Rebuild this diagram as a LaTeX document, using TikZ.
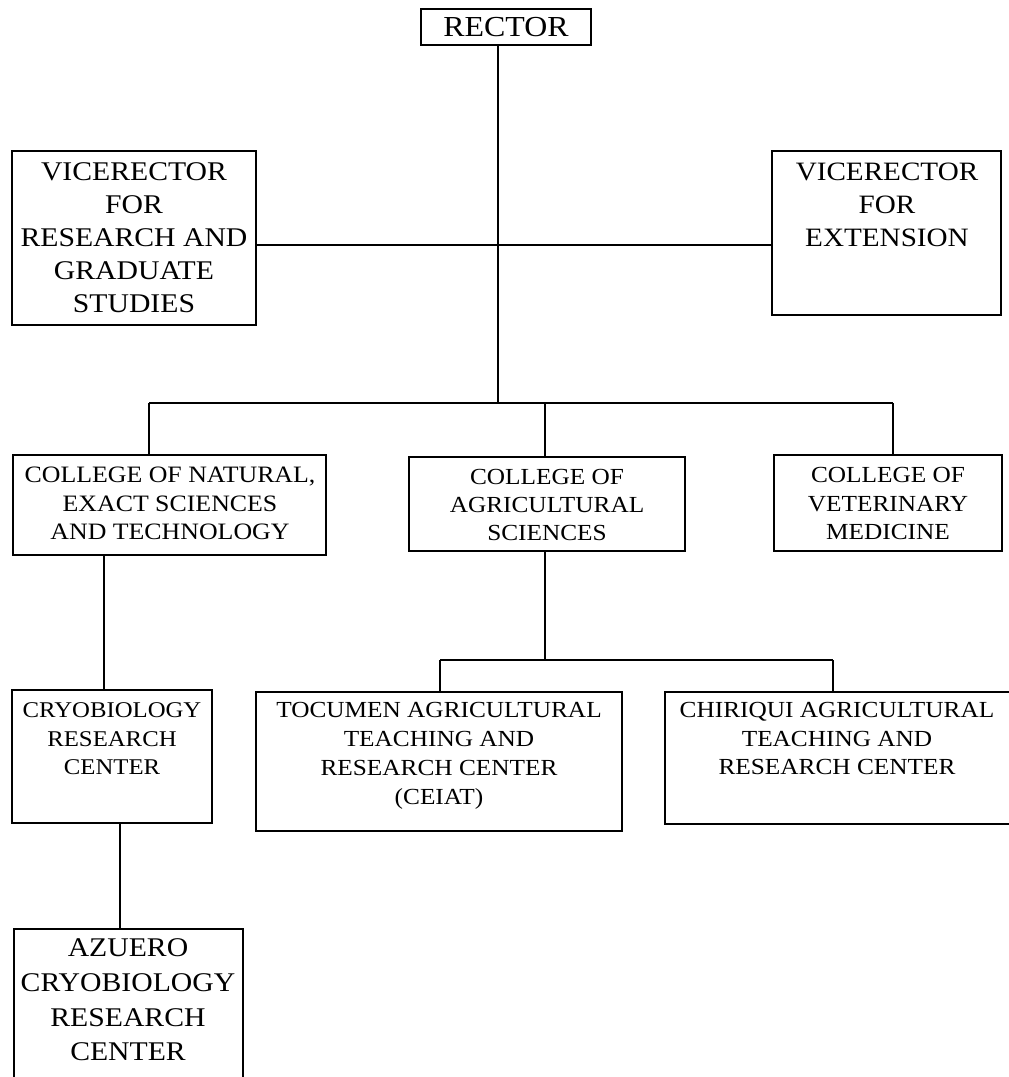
\documentclass[tikz,border=0pt]{standalone}
\usepackage{fontspec}
\setmainfont{Liberation Serif}[FakeStretch=1.1]
\begin{document}
\begin{tikzpicture}[x=1pt,y=-1pt]
\tikzset{
  box/.style={draw, line width=1.3pt, rectangle, inner sep=0pt, outer sep=0pt, anchor=north west},
  lbl/.style={align=center, inner sep=0pt, outer sep=0pt, anchor=north},
  conn/.style={line width=1.4pt},
  thickconn/.style={line width=2.4pt},
  fs/.style n args={2}{font=\fontsize{#1}{#2}\selectfont}
}
\useasboundingbox (0,0) rectangle (1009,1077);
\clip (0,0) rectangle (1009,1077);
\fill[white] (0,0) rectangle (1009,1077);

% boxes
\node[box, minimum width=170pt, minimum height=36pt] (rector) at (421,9) {};
\node[box, minimum width=244pt, minimum height=174pt] (vpr) at (12,151) {};
\node[box, minimum width=229pt, minimum height=164pt] (vpe) at (772,151) {};
\node[box, minimum width=313pt, minimum height=100pt] (cnat) at (13,455) {};
\node[box, minimum width=276pt, minimum height=94pt] (cagr) at (409,457) {};
\node[box, minimum width=228pt, minimum height=96pt] (cvet) at (774,455) {};
\node[box, minimum width=200pt, minimum height=133pt] (cryo) at (12,690) {};
\node[box, minimum width=366pt, minimum height=139pt] (toc) at (256,692) {};
\node[box, minimum width=360pt, minimum height=132pt] (chi) at (665,692) {};
\node[box, minimum width=229pt, minimum height=160pt] (azu) at (14,929) {};

% labels
\node[lbl, fs={29}{34}, anchor=center] (trector) at (rector.center) {RECTOR};
\node[lbl, fs={27}{33}] (tvpr) at (134,163) {VICERECTOR\\FOR\\RESEARCH AND\\GRADUATE\\STUDIES};
\node[lbl, fs={26.5}{33}] (tvpe) at (887,163.3) {VICERECTOR\\FOR\\EXTENSION};
\node[lbl, fs={23.5}{28.5}] (tcnat) at (170,467.2) {COLLEGE OF NATURAL,\\EXACT SCIENCES\\AND TECHNOLOGY};
\node[lbl, fs={23}{28}] (tcagr) at (547,469.4) {COLLEGE OF\\AGRICULTURAL\\SCIENCES};
\node[lbl, fs={23}{28.5}] (tcvet) at (888,467.4) {COLLEGE OF\\VETERINARY\\MEDICINE};
\node[lbl, fs={22.5}{28.5}] (tcryo) at (112,702.6) {CRYOBIOLOGY\\RESEARCH\\CENTER};
\node[lbl, fs={23}{29}] (ttoc) at (439,702.4) {TOCUMEN AGRICULTURAL\\TEACHING AND\\RESEARCH CENTER\\(CEIAT)};
\node[lbl, fs={23}{28.5}] (tchi) at (837,702.4) {CHIRIQUI AGRICULTURAL\\TEACHING AND\\RESEARCH CENTER};
\node[lbl, fs={27}{34.7}] (tazu) at (128,939) {AZUERO\\CRYOBIOLOGY\\RESEARCH\\CENTER};

% helper coordinates
\coordinate (bus1) at (498,403);
\coordinate (vline) at (498,245);
\coordinate (b1l) at (149,403);
\coordinate (b1m) at (545,403);
\coordinate (b1r) at (893,403);
\coordinate (natx) at (104,0);
\coordinate (cryx) at (120,0);
\coordinate (bus2) at (545,660);
\coordinate (b2l) at (440,660);
\coordinate (b2r) at (833,660);

% connectors
\draw[thickconn] (rector.south -| bus1) -- (bus1);
\draw[conn] (vpr.east |- vline) -- (vpe.west |- vline);
\draw[conn] (b1l) -- (b1r);
\draw[conn] (b1l) -- (b1l |- cnat.north);
\draw[thickconn] (b1m) -- (b1m |- cagr.north);
\draw[conn] (b1r) -- (b1r |- cvet.north);
\draw[thickconn] (natx |- cnat.south) -- (natx |- cryo.north);
\draw[thickconn] (cryx |- cryo.south) -- (cryx |- azu.north);
\draw[conn] (bus2 |- cagr.south) -- (bus2);
\draw[conn] (b2l) -- (b2r);
\draw[conn] (b2l) -- (b2l |- toc.north);
\draw[thickconn] (b2r) -- (b2r |- chi.north);
\end{tikzpicture}
\end{document}
